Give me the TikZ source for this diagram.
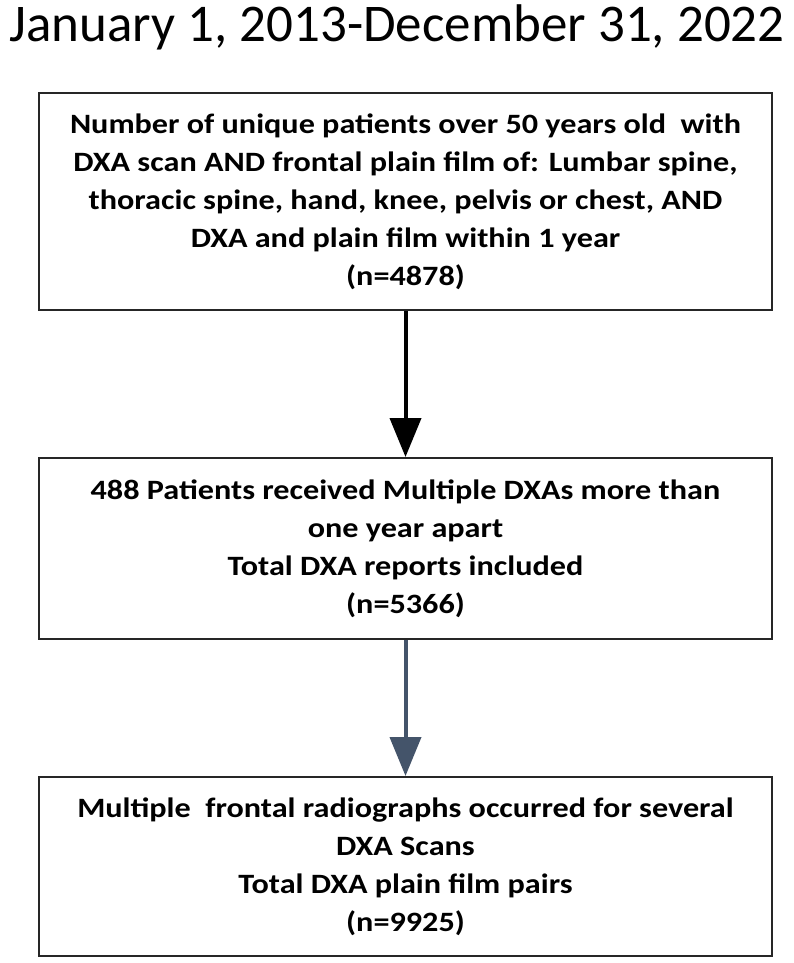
\documentclass[tikz,border=0pt]{standalone}
\usepackage{fontspec}
\setmainfont{Carlito}
\newfontfamily\boxfont{Carlito}[FakeStretch=1.15]
\usetikzlibrary{arrows.meta}
\definecolor{slate}{HTML}{44546A}
\definecolor{boxline}{HTML}{262626}
\tikzset{
  flowbox/.style={draw=boxline, line width=2pt, minimum width=733pt, inner sep=0pt,
    align=center, font=\boxfont\bfseries\fontsize{28}{38}\selectfont},
  flowarrow/.style={line width=4pt, -{Triangle[width=31pt,length=39pt]}},
}
\begin{document}
\begin{tikzpicture}[x=1pt,y=-1pt]
\useasboundingbox (0,0) rectangle (794,963);
\node[anchor=base, inner sep=0pt] (title) at (397,42) {\fontsize{53}{60}\selectfont January 1, 2013-December 31, 2022};
\node[flowbox, minimum height=217pt] (b1) at (405.5,201.5)
  {Number of unique patients over 50 years old\ \ with\\
   DXA scan AND frontal plain film of: Lumbar spine,\\
   thoracic spine, hand, knee, pelvis or chest, AND\\
   DXA and plain film within 1 year\\
   (n=4878)};
\node[flowbox, minimum height=181pt] (b2) at (405.5,548.5)
  {488 Patients received Multiple DXAs more than\\
   one year apart\\
   Total DXA reports included\\
   (n=5366)};
\node[flowbox, minimum height=179pt] (b3) at (405.5,866.5)
  {Multiple\ \ frontal radiographs occurred for several\\
   DXA Scans\\
   Total DXA plain film pairs\\
   (n=9925)};
\draw[flowarrow, black] (b1.south) -- (b2.north);
\draw[flowarrow, slate] (b2.south) -- (b3.north);
\end{tikzpicture}
\end{document}
